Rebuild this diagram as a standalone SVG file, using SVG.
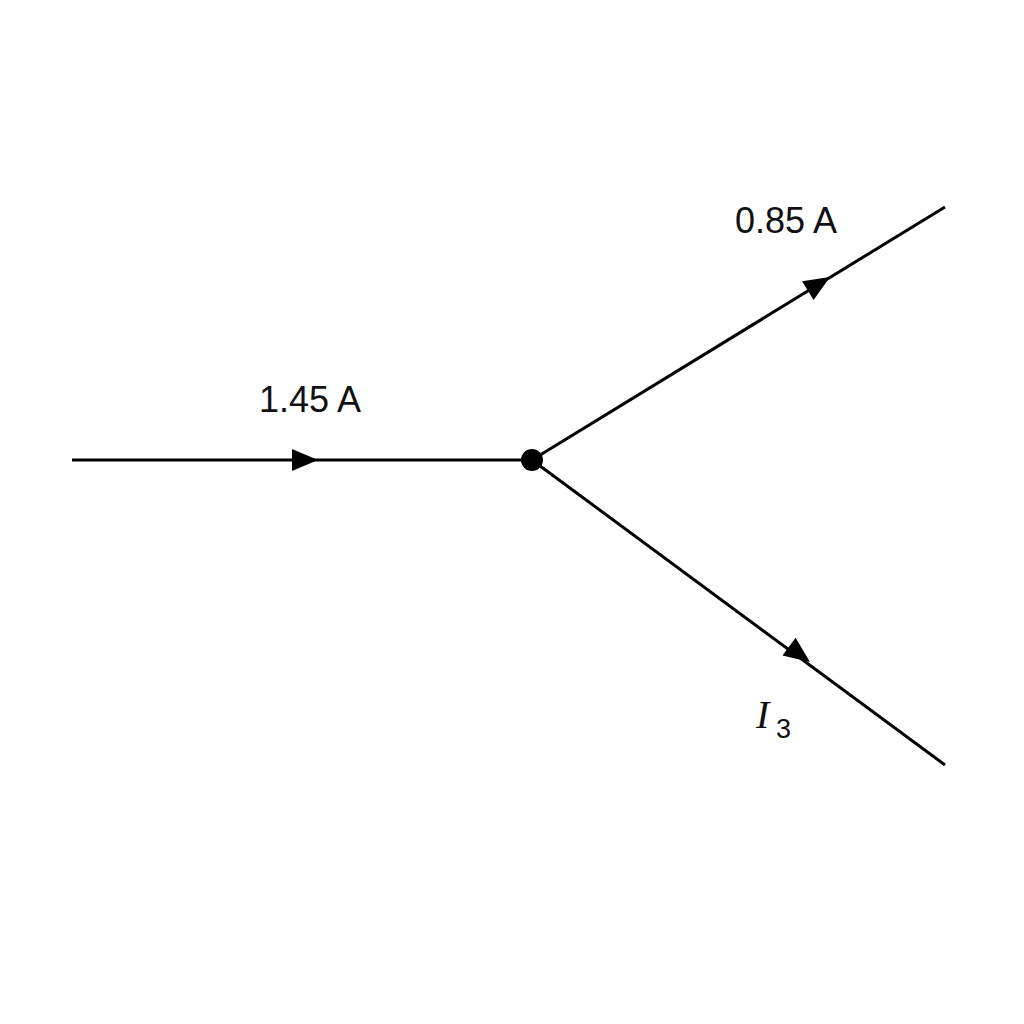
<svg xmlns="http://www.w3.org/2000/svg" width="1024" height="1024" viewBox="0 0 1024 1024">
<style>
.wire{stroke:#000;stroke-width:3;fill:none;stroke-linecap:butt}
.lbl{font-family:"Liberation Sans",Arial,sans-serif;font-size:36px;fill:#111}
.ital{font-family:"Liberation Serif","Times New Roman",serif;font-style:italic;font-size:40px;fill:#111}
.sub{font-family:"Liberation Sans",Arial,sans-serif;font-size:27px;fill:#111}
</style>
<defs>
<polygon id="ah" points="0,0 -26,-11 -26,11" fill="#000"/>
</defs>
<rect width="1024" height="1024" fill="#fff"/>
<g id="connectors">
<line class="wire" x1="72" y1="460" x2="532" y2="460"/>
<line class="wire" x1="532" y1="460" x2="945" y2="207"/>
<line class="wire" x1="532" y1="460" x2="945" y2="765"/>
<use href="#ah" transform="translate(318,460)"/>
<use href="#ah" transform="translate(830,277) rotate(-31.5)"/>
<use href="#ah" transform="translate(810,662) rotate(36.4)"/>
</g>
<g id="junction">
<circle cx="532" cy="460" r="11" fill="#000"/>
</g>
<g id="label-in">
<text class="lbl" x="259" y="412">1.45 A</text>
</g>
<g id="label-out1">
<text class="lbl" x="735" y="233">0.85 A</text>
</g>
<g id="label-out2">
<text class="ital" x="756" y="728">I</text>
<text class="sub" x="776" y="738">3</text>
</g>
</svg>
